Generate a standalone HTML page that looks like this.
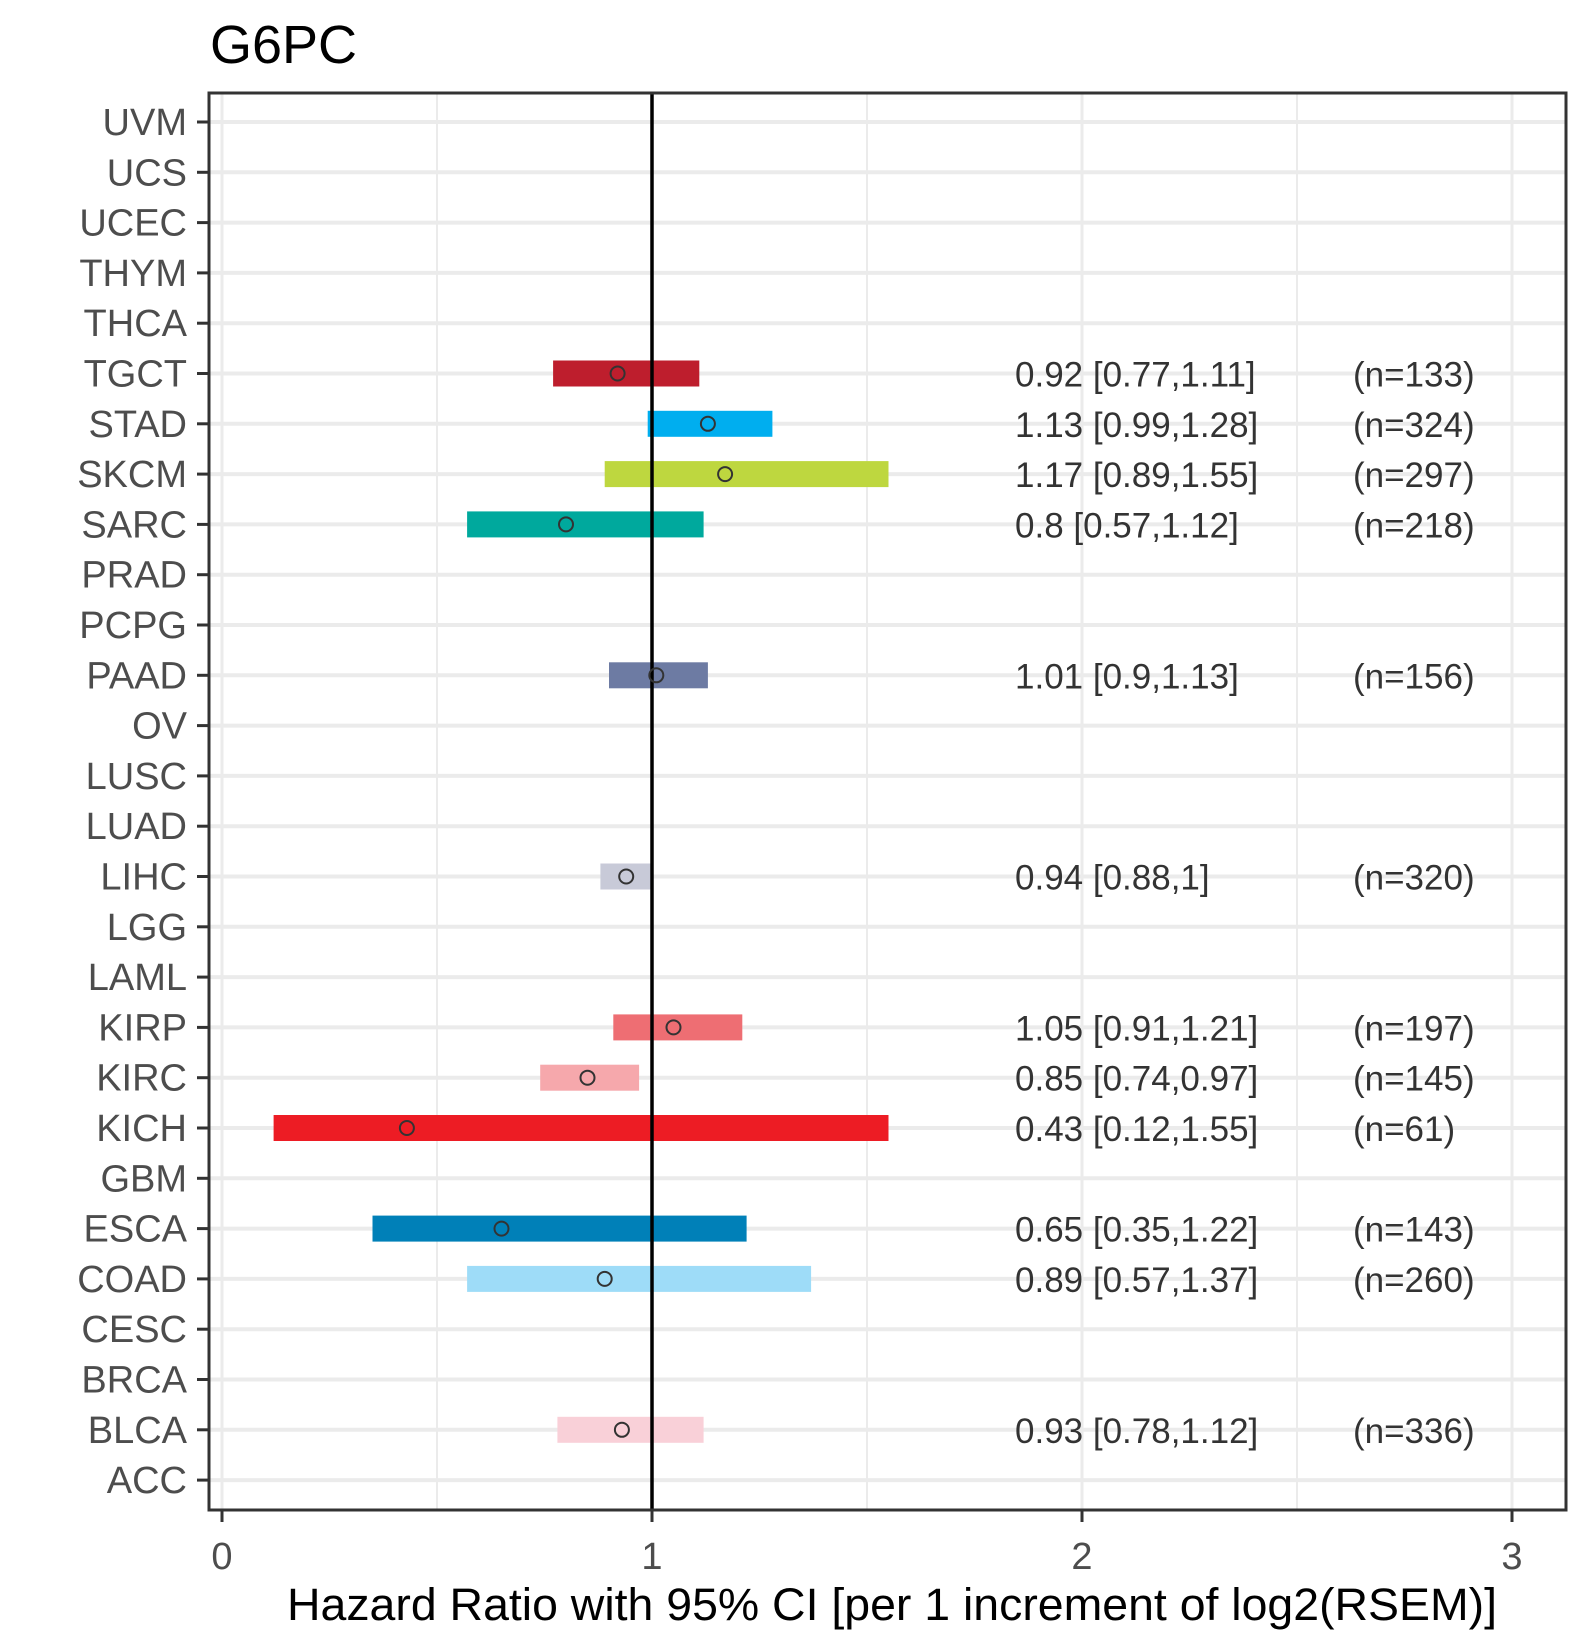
<!DOCTYPE html>
<html><head><meta charset="utf-8"><style>
html,body{margin:0;padding:0;background:#fff}
svg{display:block;font-family:"Liberation Sans",Arial,sans-serif}
</style></head><body>
<svg id="chart" width="1590" height="1650" viewBox="0 0 1590 1650" xmlns="http://www.w3.org/2000/svg">
<rect width="1590" height="1650" fill="#fff"/>
<text x="210" y="63" font-size="54" fill="#000">G6PC</text>
<g id="grid"></g>
<g id="bars"></g>
<g id="labels"></g>
<rect x="209" y="93" width="1357" height="1417" fill="none" stroke="#333" stroke-width="3"/>
<g id="axes"></g>
<text x="287" y="1620" font-size="45" textLength="1210" lengthAdjust="spacingAndGlyphs" fill="#000">Hazard Ratio with 95% CI [per 1 increment of log2(RSEM)]</text>
</svg>
<script>
const categories = ["UVM","UCS","UCEC","THYM","THCA","TGCT","STAD","SKCM","SARC","PRAD","PCPG","PAAD","OV","LUSC","LUAD","LIHC","LGG","LAML","KIRP","KIRC","KICH","GBM","ESCA","COAD","CESC","BRCA","BLCA","ACC"];
const hrCats = ["TGCT","STAD","SKCM","SARC","PAAD","LIHC","KIRP","KIRC","KICH","ESCA","COAD","BLCA"];
const hrValues = [0.92,1.13,1.17,0.8,1.01,0.94,1.05,0.85,0.43,0.65,0.89,0.93];
const lowValues = [0.77,0.99,0.89,0.57,0.9,0.88,0.91,0.74,0.12,0.35,0.57,0.78];
const highValues = [1.11,1.28,1.55,1.12,1.13,1,1.21,0.97,1.55,1.22,1.37,1.12];
const nValues = [133,324,297,218,156,320,197,145,61,143,260,336];
const hrLabels = ["0.92 [0.77,1.11]","1.13 [0.99,1.28]","1.17 [0.89,1.55]","0.8 [0.57,1.12]","1.01 [0.9,1.13]","0.94 [0.88,1]","1.05 [0.91,1.21]","0.85 [0.74,0.97]","0.43 [0.12,1.55]","0.65 [0.35,1.22]","0.89 [0.57,1.37]","0.93 [0.78,1.12]"];
const colors = ["#BE1E2D","#00AEEF","#BED73F","#00A99D","#6D7BA3","#C8CAD8","#EE6E73","#F6A8AC","#ED1C24","#0080B8","#9EDCF8","#F9D0D8"];
const xTicks = [0,1,2,3];
const xMinor = [0.5,1.5,2.5];

const NS="http://www.w3.org/2000/svg";
function xs(v){return 222+v*430;}
function ys(c){return 122+categories.indexOf(c)*50.3;}
function mk(tag,attrs,parent,txt){const e=document.createElementNS(NS,tag);for(const k in attrs)e.setAttribute(k,attrs[k]);if(txt!==undefined)e.textContent=txt;document.getElementById(parent).appendChild(e);return e;}

xMinor.forEach(v=>{const e=mk('line',{x1:xs(v),x2:xs(v),y1:93,y2:1510,stroke:'#ebebeb','stroke-width':2},'grid');

});
xTicks.forEach(v=>{const e=mk('line',{x1:xs(v),x2:xs(v),y1:93,y2:1510,stroke:'#ebebeb','stroke-width':3},'grid');

});
categories.forEach(c=>{const e=mk('line',{x1:209,x2:1566,y1:ys(c),y2:ys(c),stroke:'#ebebeb','stroke-width':4},'grid');

});

hrCats.forEach((c,i)=>{
 const y=ys(c);
 const r=mk('rect',{x:xs(lowValues[i]),y:y-13,width:xs(highValues[i])-xs(lowValues[i]),height:26,fill:colors[i]},'bars');
 
 
});
const ref=mk('line',{x1:xs(1),x2:xs(1),y1:93,y2:1510,stroke:'#000','stroke-width':3.5},'bars');


hrCats.forEach((c,i)=>{
 const y=ys(c);
 const p=mk('circle',{cx:xs(hrValues[i]),cy:y,r:7,fill:'none',stroke:'#333','stroke-width':2},'bars');
 
 
 const t=mk('text',{x:1015,y:y+13,'font-size':35,fill:'#333'},'labels',hrLabels[i]);
 
 
 const n=mk('text',{x:1353,y:y+13,'font-size':35,fill:'#333'},'labels','(n='+nValues[i]+')');
 
 
});

categories.forEach(c=>{
 const y=ys(c);
 const tk=mk('line',{x1:197,x2:209,y1:y,y2:y,stroke:'#333','stroke-width':3},'axes');
 
 
 const t=mk('text',{x:187,y:y+13,'font-size':38,fill:'#4d4d4d','text-anchor':'end'},'axes',c);
 
 
});
xTicks.forEach(v=>{
 const tk=mk('line',{x1:xs(v),x2:xs(v),y1:1510,y2:1522,stroke:'#333','stroke-width':3},'axes');
 
 
 const t=mk('text',{x:xs(v),y:1569,'font-size':38,fill:'#4d4d4d','text-anchor':'middle'},'axes',String(v));
 
 
});
</script>
</body></html>
